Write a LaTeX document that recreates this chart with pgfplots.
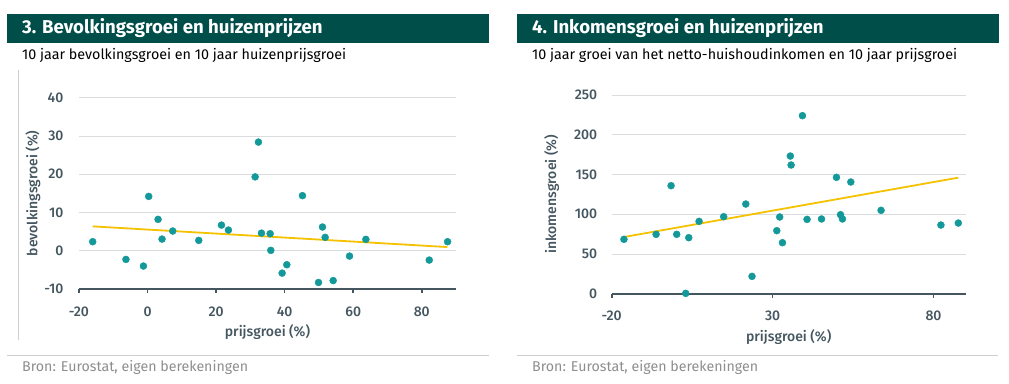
\documentclass[border=0pt]{standalone}
\usepackage{fontspec}
\setmainfont{Fira Sans}
\newfontfamily\fmed{Fira Sans Medium}
\usepackage{pgfplots}
\pgfplotsset{compat=1.18}
\definecolor{hdr}{HTML}{004E4A}
\definecolor{teal}{HTML}{14999A}
\definecolor{trend}{HTML}{F5C200}
\definecolor{axc}{HTML}{44565F}
\definecolor{gridc}{HTML}{DADDDF}
\definecolor{sep}{HTML}{CFCFCF}
\definecolor{src}{HTML}{8E8E8E}
\pgfplotsset{
  myax/.style={
    scale only axis,
    axis x line*=bottom,
    axis y line*=left,
    x axis line style={draw=axc, line width=2pt, -},
    y axis line style={draw=none},
    xmin=-20, xmax=90,
    tick align=outside,
    major tick length=4pt,
    xtick style={draw=axc, line width=1.6pt},
    ytick style={draw=none},
    ymajorgrids,
    grid style={draw=gridc, line width=0.9pt},
    tick label style={font=\fmed\fontsize{14}{16}\selectfont, text=axc},
    xticklabel style={yshift=-10pt},
    yticklabel style={xshift=-8pt, anchor=east},
    label style={font=\fmed\fontsize{14}{16}\selectfont, text=axc},
    xlabel={prijsgroei (\%)},
    xlabel style={at={(axis description cs:0.5,0)}, anchor=center, yshift=-43pt},
    /pgf/number format/assume math mode=true,
    clip=false,
  },
  dots/.style={only marks, mark=*, mark size=3.5pt, color=teal, mark options={fill=teal, draw=teal}},
  tline/.style={draw=trend, line width=1.8pt, no marks},
}
\begin{document}
\begin{tikzpicture}[x=1pt,y=1pt]
\fill[white] (0,0) rectangle (1009,383);
% headers
\fill[hdr] (7,340) rectangle (489,369);
\fill[hdr] (517,340) rectangle (999,369);
\node[anchor=west, inner sep=0, text=white, font=\bfseries\fontsize{18.6}{21}\selectfont] at (22,354.5) {3. Bevolkingsgroei en huizenprijzen};
\node[anchor=west, inner sep=0, text=white, font=\bfseries\fontsize{18.6}{21}\selectfont] at (532,354.5) {4. Inkomensgroei en huizenprijzen};
\node[anchor=west, inner sep=0, text=black, font=\fontsize{14.3}{16}\selectfont] at (22,328) {10 jaar bevolkingsgroei en 10 jaar huizenprijsgroei};
\node[anchor=west, inner sep=0, text=black, font=\fontsize{14.3}{16}\selectfont] at (532,328) {10 jaar groei van het netto-huishoudinkomen en 10 jaar prijsgroei};
\draw[sep, line width=1pt] (18.5,313) -- (18.5,43);
\draw[sep, line width=1pt] (7,28) -- (489,28);
\draw[sep, line width=1pt] (517,28) -- (998,28);
\node[anchor=west, inner sep=0, text=src, font=\fontsize{14.2}{16}\selectfont] at (22,16) {Bron: Eurostat, eigen berekeningen};
\node[anchor=west, inner sep=0, text=src, font=\fontsize{14.2}{16}\selectfont] at (532,16) {Bron: Eurostat, eigen berekeningen};

\begin{axis}[myax, at={(79pt,94pt)}, anchor=south west,
  width=377pt, height=191.3pt,
  ymin=-10, ymax=40, ytick={-10,0,10,20,30,40},
  xtick={-20,0,20,40,60,80},
  ylabel={bevolkingsgroei (\%)},
  every axis y label/.style={at={(axis description cs:0,0.5)}, xshift=-46pt, rotate=90, anchor=center, font=\fmed\fontsize{14}{16}\selectfont, text=axc},
]
\addplot[tline] coordinates {(-16,6.37) (87.5,0.96)};
\addplot[dots] coordinates {
(-16.0,2.36) (-6.3,-2.27) (-1.2,-4.0) (0.34,14.2) (3.07,8.2) (4.23,3.05)
(7.35,5.15) (14.94,2.7) (21.56,6.7) (23.6,5.4) (31.39,19.3) (32.36,28.4)
(33.24,4.6) (35.77,4.45) (35.96,0.1) (39.27,-5.85) (40.63,-3.66) (45.2,14.4)
(49.88,-8.3) (51.05,6.2) (51.82,3.5) (54.16,-7.8) (58.93,-1.4) (63.7,2.97)
(82.19,-2.44) (87.54,2.36)
};
\end{axis}

\begin{axis}[myax, at={(611.7pt,89.3pt)}, anchor=south west,
  width=354pt, height=198.7pt,
  ymin=0, ymax=250, ytick={0,50,100,150,200,250},
  xtick={-20,30,80},
  yticklabel style={xshift=1pt},
  ylabel={inkomensgroei (\%)},
  every axis y label/.style={at={(axis description cs:0,0.5)}, xshift=-60pt, rotate=90, anchor=center, font=\fmed\fontsize{14}{16}\selectfont, text=axc},
]
\addplot[tline] coordinates {(-16.2,71.3) (87.7,146)};
\addplot[dots] coordinates {
(-16.2,68.4) (-6.2,74.7) (-1.55,135.9) (0.2,74.7) (3.0,0.4) (3.94,70.5)
(7.15,91.0) (14.8,96.9) (21.66,112.8) (23.6,21.8) (31.3,79.3) (32.2,96.5)
(33.06,64.2) (35.5,173.2) (35.75,161.9) (39.27,224) (40.7,93.5) (45.2,94)
(49.84,146.4) (51.1,99.4) (51.7,94) (54.3,140.5) (63.7,104.9) (82.3,86.4)
(87.7,88.9)
};
\end{axis}
\end{tikzpicture}
\end{document}
